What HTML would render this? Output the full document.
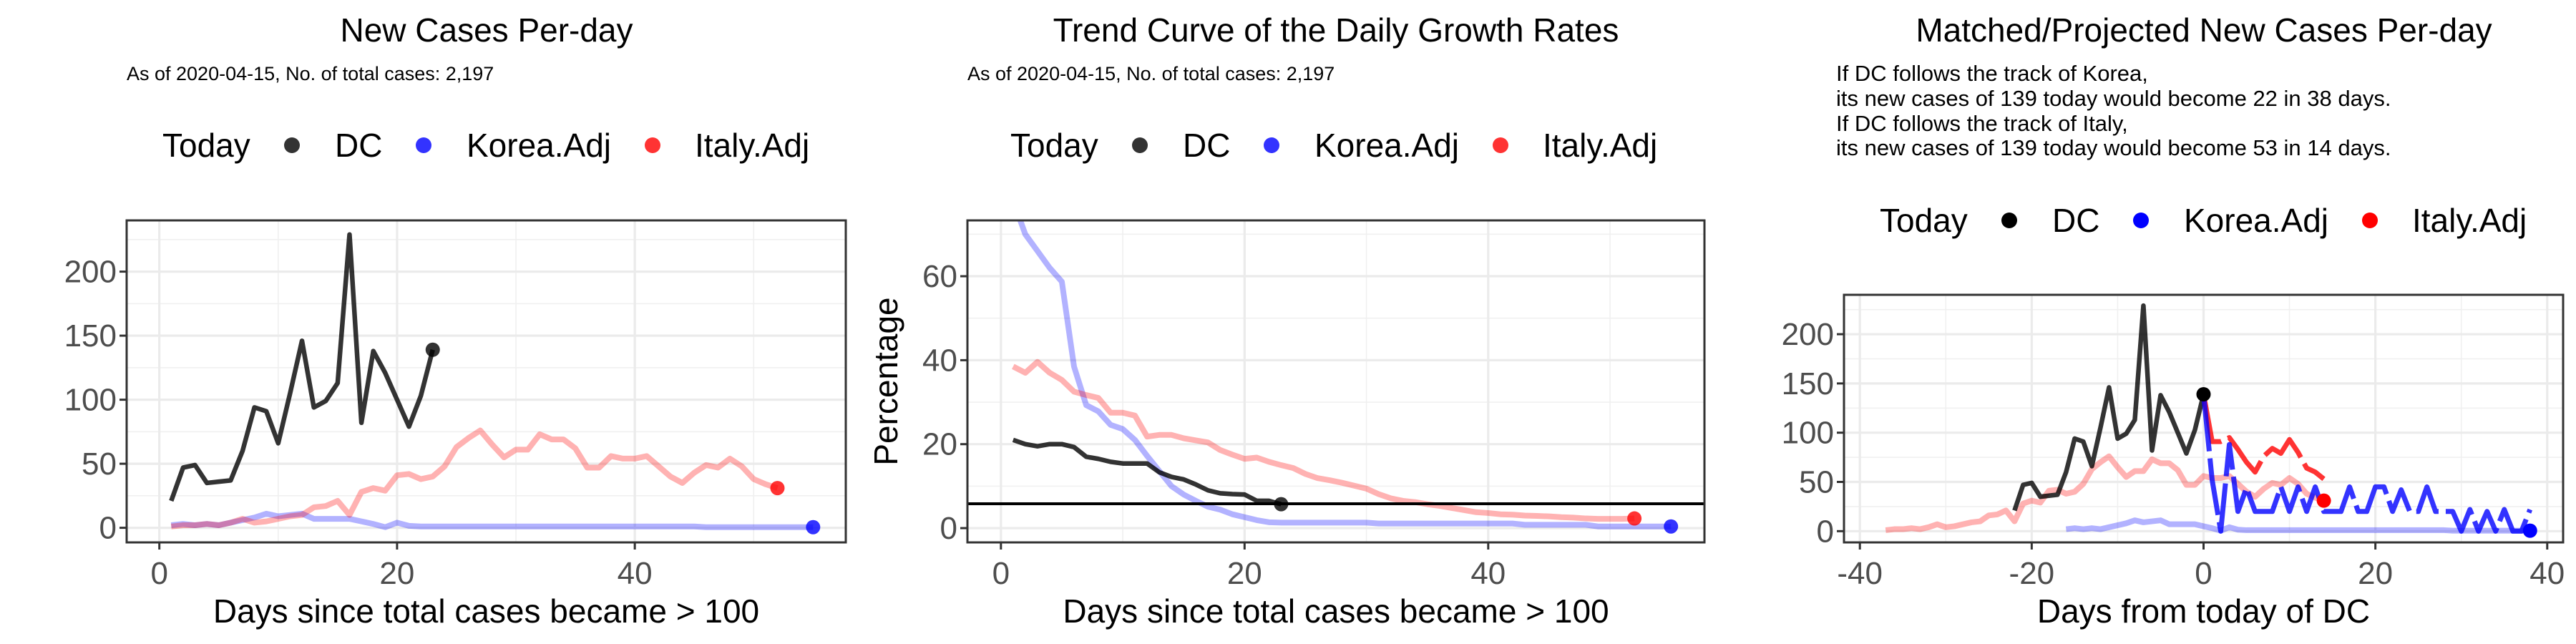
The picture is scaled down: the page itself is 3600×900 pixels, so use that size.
<!DOCTYPE html>
<html><head><meta charset="utf-8"><style>
html,body{margin:0;padding:0;background:#fff;}
svg{display:block;font-family:"Liberation Sans",Arial,sans-serif;}
</style></head><body>
<svg id="chart" width="3600" height="900" viewBox="0 0 3600 900" xmlns="http://www.w3.org/2000/svg">
<defs>
<clipPath id="clip1"><rect x="177" y="308" width="1005" height="450"/></clipPath>
<clipPath id="clip2"><rect x="1352" y="308" width="1030" height="450"/></clipPath>
<clipPath id="clip3"><rect x="2577" y="412" width="1005" height="346"/></clipPath>
</defs>
<text x="680" y="58" font-size="46" text-anchor="middle">New Cases Per-day</text>
<text x="177" y="112" font-size="27">As of 2020-04-15, No. of total cases: 2,197</text>
<text x="1867" y="58" font-size="46" text-anchor="middle">Trend Curve of the Daily Growth Rates</text>
<text x="1352" y="112" font-size="27">As of 2020-04-15, No. of total cases: 2,197</text>
<text x="3080" y="58" font-size="46" text-anchor="middle">Matched/Projected New Cases Per-day</text>
<g font-size="31">
<text x="2566" y="113">If DC follows the track of Korea,</text>
<text x="2566" y="148">its new cases of 139 today would become 22 in 38 days.</text>
<text x="2566" y="183">If DC follows the track of Italy,</text>
<text x="2566" y="217">its new cases of 139 today would become 53 in 14 days.</text>
</g>
<g id="g1"></g>
<g id="g2"></g>
<g id="g3"></g>
</svg>
<script>
// ---- data ----
const dcNew = [21,47,49,35,36,37,60,94,91,66,105,146,94,99,113,229,82,138,121,100,79,103,139];
const koreaNew = [2,3,2,3,2,4,6,8,11,9,10,11,7,7,7,7,5,3,0.5,4,1.5,1,1,1,1,1,1,1,1,1,1,1,1,1,1,1,1,1,1,1,1,1,1,1,1,0.5,0.5,0.5,0.5,0.5,0.5,0.5,0.5,0.5,0.5];
const italyNew = [1,2,2,3,2,4,7,4,5,7,9,10,16,17,21,10,28,31,29,41,42,38,40,48,63,70,76,65,55,61,61,73,69,69,62,47,47,56,54,54,56,48,40,35,43,49,47,54,48,38,34,31];
const dcRate = [21,20,19.5,20,20,19.3,17,16.5,15.8,15.4,15.4,15.4,13.3,12.2,11.6,10.4,9,8.3,8.1,8,6.5,6.5,5.7];
const koreaRate = [78,70,66,62,58.7,38.5,29.3,27.8,24.6,23.6,21,17.2,13.6,10,8,6.5,5.1,4.4,3.3,2.6,1.9,1.4,1.3,1.3,1.3,1.3,1.3,1.3,1.3,1.3,1.1,1.1,1.1,1.1,1.1,1.1,1.1,1.1,1.1,1.1,1.1,1.1,0.8,0.8,0.8,0.8,0.8,0.8,0.4,0.4,0.4,0.4,0.4,0.4,0.4];
const italyRate = [38.5,37,39.6,37,35.3,32.5,31.7,31,27.5,27.5,26.8,21.8,22.2,22.2,21.4,20.9,20.4,18.6,17.5,16.5,16.8,15.8,15,14.3,12.9,11.9,11.4,10.8,10.1,9.4,8.1,7.1,6.5,6.2,5.7,5.3,4.8,4.3,3.8,3.6,3.3,3.2,3.0,2.9,2.8,2.6,2.5,2.3,2.2,2.2,2.2,2.3];
const threshold = [5.8];
const koreaProj = [139,52,0,88,20,44,20,20,20,45,20,45,20,45,20,20,20,45,20,20,45,45,20,42,20,20,45,20,20,20,0,22,0,20,0,22,0,0,22];
const italyProj = [139,91,91,95,83,70,60,76,84,79,93,80,64,60,53];
const shifts = {dc:-23, korea:-17, italy:-38};
const xTicks12 = [0,20,40];
const xTicks3 = [-40,-20,0,20,40];
const yTicksCases = [0,50,100,150,200];
const yTicksRate = [0,20,40,60];
const legendLabels = ["DC","Korea.Adj","Italy.Adj"];

const NS="http://www.w3.org/2000/svg";
function mk(tag,attrs,parent){const e=document.createElementNS(NS,tag);for(const k in attrs)e.setAttribute(k,attrs[k]);parent.appendChild(e);return e;}
function scale(d0,d1,r0,r1){return v=>r0+(v-d0)/(d1-d0)*(r1-r0);}

function panel(g,cfg){
  const {L,T,R,B,xd,yd,xMaj,xMin,yMaj,yMin,clip}=cfg;
  const sx=scale(xd[0],xd[1],L,R), sy=scale(yd[0],yd[1],B,T);
  cfg.sx=sx;cfg.sy=sy;
  const grid=mk('g',{},g);
  
  
  yMin.forEach(v=>mk('line',{x1:L,x2:R,y1:sy(v),y2:sy(v),stroke:'#f0f0f0','stroke-width':1.6},grid));
  xMin.forEach(v=>mk('line',{y1:T,y2:B,x1:sx(v),x2:sx(v),stroke:'#f0f0f0','stroke-width':1.6},grid));
  yMaj.forEach(v=>mk('line',{x1:L,x2:R,y1:sy(v),y2:sy(v),stroke:'#ebebeb','stroke-width':3.2},grid));
  xMaj.forEach(v=>mk('line',{y1:T,y2:B,x1:sx(v),x2:sx(v),stroke:'#ebebeb','stroke-width':3.2},grid));
  const ax=mk('g',{},g);
  
  
  yMaj.forEach(v=>{
    mk('line',{x1:L-10,x2:L,y1:sy(v),y2:sy(v),stroke:'#333','stroke-width':3},ax);
    const t=mk('text',{x:L-14,y:sy(v)+15,'font-size':44,fill:'#4d4d4d','text-anchor':'end'},ax);
    
    
    t.textContent=v;
  });
  xMaj.forEach(v=>{
    mk('line',{y1:B,y2:B+10,x1:sx(v),x2:sx(v),stroke:'#333','stroke-width':3},ax);
    const t=mk('text',{x:sx(v),y:B+58,'font-size':44,fill:'#4d4d4d','text-anchor':'middle'},ax);
    
    
    t.textContent=v;
  });
  const xt=mk('text',{x:(L+R)/2,y:870,'font-size':46,'text-anchor':'middle'},ax);
  
  
  xt.textContent=cfg.xTitle;
  const marks=mk('g',{'clip-path':'url(#'+clip+')'},g);
  
  
  cfg.marks=marks;
  return cfg;
}
function line(cfg,vals,shift,color,w,name,dash){
  const pts=vals.map((v,i)=>cfg.sx(i+shift)+','+cfg.sy(v)).join(' ');
  const a={points:pts,fill:'none',stroke:color,'stroke-width':w,'stroke-linejoin':'round'};
  if(dash)a['stroke-dasharray']=dash;
  const p=mk('polyline',a,cfg.marks);
  
  
  return p;
}
function dot(cfg,x,y,color,name){
  const c=mk('circle',{cx:cfg.sx(x),cy:cfg.sy(y),r:10,fill:color},cfg.marks);
  
  
}
function border(cfg,g){
  const r=mk('rect',{x:cfg.L,y:cfg.T,width:cfg.R-cfg.L,height:cfg.B-cfg.T,fill:'none',stroke:'#333','stroke-width':3},g);
  
  
}
function legend(g,ox,y,cols){
  const lg=mk('g',{},g);
  
  
  const t=mk('text',{x:ox,y:y+16,'font-size':46},lg);
  
  
  t.textContent='Today';
  const dotX=[408,592,912], txtX=[468,652,971];
  legendLabels.forEach((lab,i)=>{
    const e=mk('g',{},lg);
    
    
    mk('circle',{cx:ox-227+dotX[i],cy:y,r:11,fill:cols[i]},e);
    const tt=mk('text',{x:ox-227+txtX[i],y:y+16,'font-size':46},e);
    tt.textContent=lab;
  });
}

// Panel 1
const g1=document.getElementById('g1');
const p1=panel(g1,{L:177,T:308,R:1182,B:758,xd:[-2.75,57.75],yd:[-11.4,240],xMaj:xTicks12,xMin:[10,30,50],yMaj:yTicksCases,yMin:[25,75,125,175,225],clip:'clip1',xTitle:'Days since total cases became > 100'});
line(p1,koreaNew,1,'rgba(0,0,255,0.3)',8,'korea-line');
line(p1,italyNew,1,'rgba(255,0,0,0.3)',8,'italy-line');
line(p1,dcNew,1,'rgba(0,0,0,0.8)',6.5,'dc-line');
dot(p1,dcNew.length,dcNew[dcNew.length-1],'rgba(0,0,0,0.8)','dc-today-dot');
dot(p1,koreaNew.length,koreaNew[koreaNew.length-1],'rgba(0,0,255,0.8)','korea-today-dot');
dot(p1,italyNew.length,italyNew[italyNew.length-1],'rgba(255,0,0,0.8)','italy-today-dot');
border(p1,g1);
legend(g1,227,203,['#333','#3333ff','#ff3333']);

// Panel 2
const g2=document.getElementById('g2');
const p2=panel(g2,{L:1352,T:308,R:2382,B:758,xd:[-2.75,57.75],yd:[-3.4,73.3],xMaj:xTicks12,xMin:[10,30,50],yMaj:yTicksRate,yMin:[10,30,50,70],clip:'clip2',xTitle:'Days since total cases became > 100'});
line(p2,koreaRate,1,'rgba(0,0,255,0.3)',8,'korea-rate-line');
line(p2,italyRate,1,'rgba(255,0,0,0.3)',8,'italy-rate-line');
line(p2,dcRate,1,'rgba(0,0,0,0.8)',6.5,'dc-rate-line');
const hl=mk('line',{x1:1352,x2:2382,y1:p2.sy(threshold[0]),y2:p2.sy(threshold[0]),stroke:'#000','stroke-width':4},p2.marks);


dot(p2,dcRate.length,dcRate[dcRate.length-1],'rgba(0,0,0,0.8)','dc-today-dot');
dot(p2,koreaRate.length,koreaRate[koreaRate.length-1],'rgba(0,0,255,0.8)','korea-today-dot');
dot(p2,italyRate.length,italyRate[italyRate.length-1],'rgba(255,0,0,0.8)','italy-today-dot');
border(p2,g2);
const yt=mk('text',{x:0,y:0,'font-size':46,'text-anchor':'middle',transform:'translate(1254,533) rotate(-90)'},g2);


yt.textContent='Percentage';
legend(g2,1412,203,['#333','#3333ff','#ff3333']);

// Panel 3
const g3=document.getElementById('g3');
const p3=panel(g3,{L:2577,T:412,R:3582,B:758,xd:[-41.85,41.85],yd:[-11.4,240],xMaj:xTicks3,xMin:[-30,-10,10,30],yMaj:yTicksCases,yMin:[25,75,125,175,225],clip:'clip3',xTitle:'Days from today of DC'});
line(p3,koreaNew,1+shifts.korea,'rgba(0,0,255,0.3)',8,'korea-matched-line');
line(p3,italyNew,1+shifts.italy,'rgba(255,0,0,0.3)',8,'italy-matched-line');
line(p3,dcNew,1+shifts.dc,'rgba(0,0,0,0.8)',6.5,'dc-line');
line(p3,italyProj,0,'rgba(255,0,0,0.8)',7,'italy-projection-line','80 10');
line(p3,koreaProj,0,'rgba(0,0,255,0.8)',7,'korea-projection-line','80 10');
dot(p3,0,dcNew[dcNew.length-1],'#000','dc-today-dot');
dot(p3,koreaNew.length+shifts.korea,koreaNew[koreaNew.length-1],'#0000ff','korea-today-dot');
dot(p3,italyNew.length+shifts.italy,italyNew[italyNew.length-1],'#ff0000','italy-today-dot');
border(p3,g3);
legend(g3,2627,308,['#000','#0000ff','#ff0000']);
</script>
</body></html>
